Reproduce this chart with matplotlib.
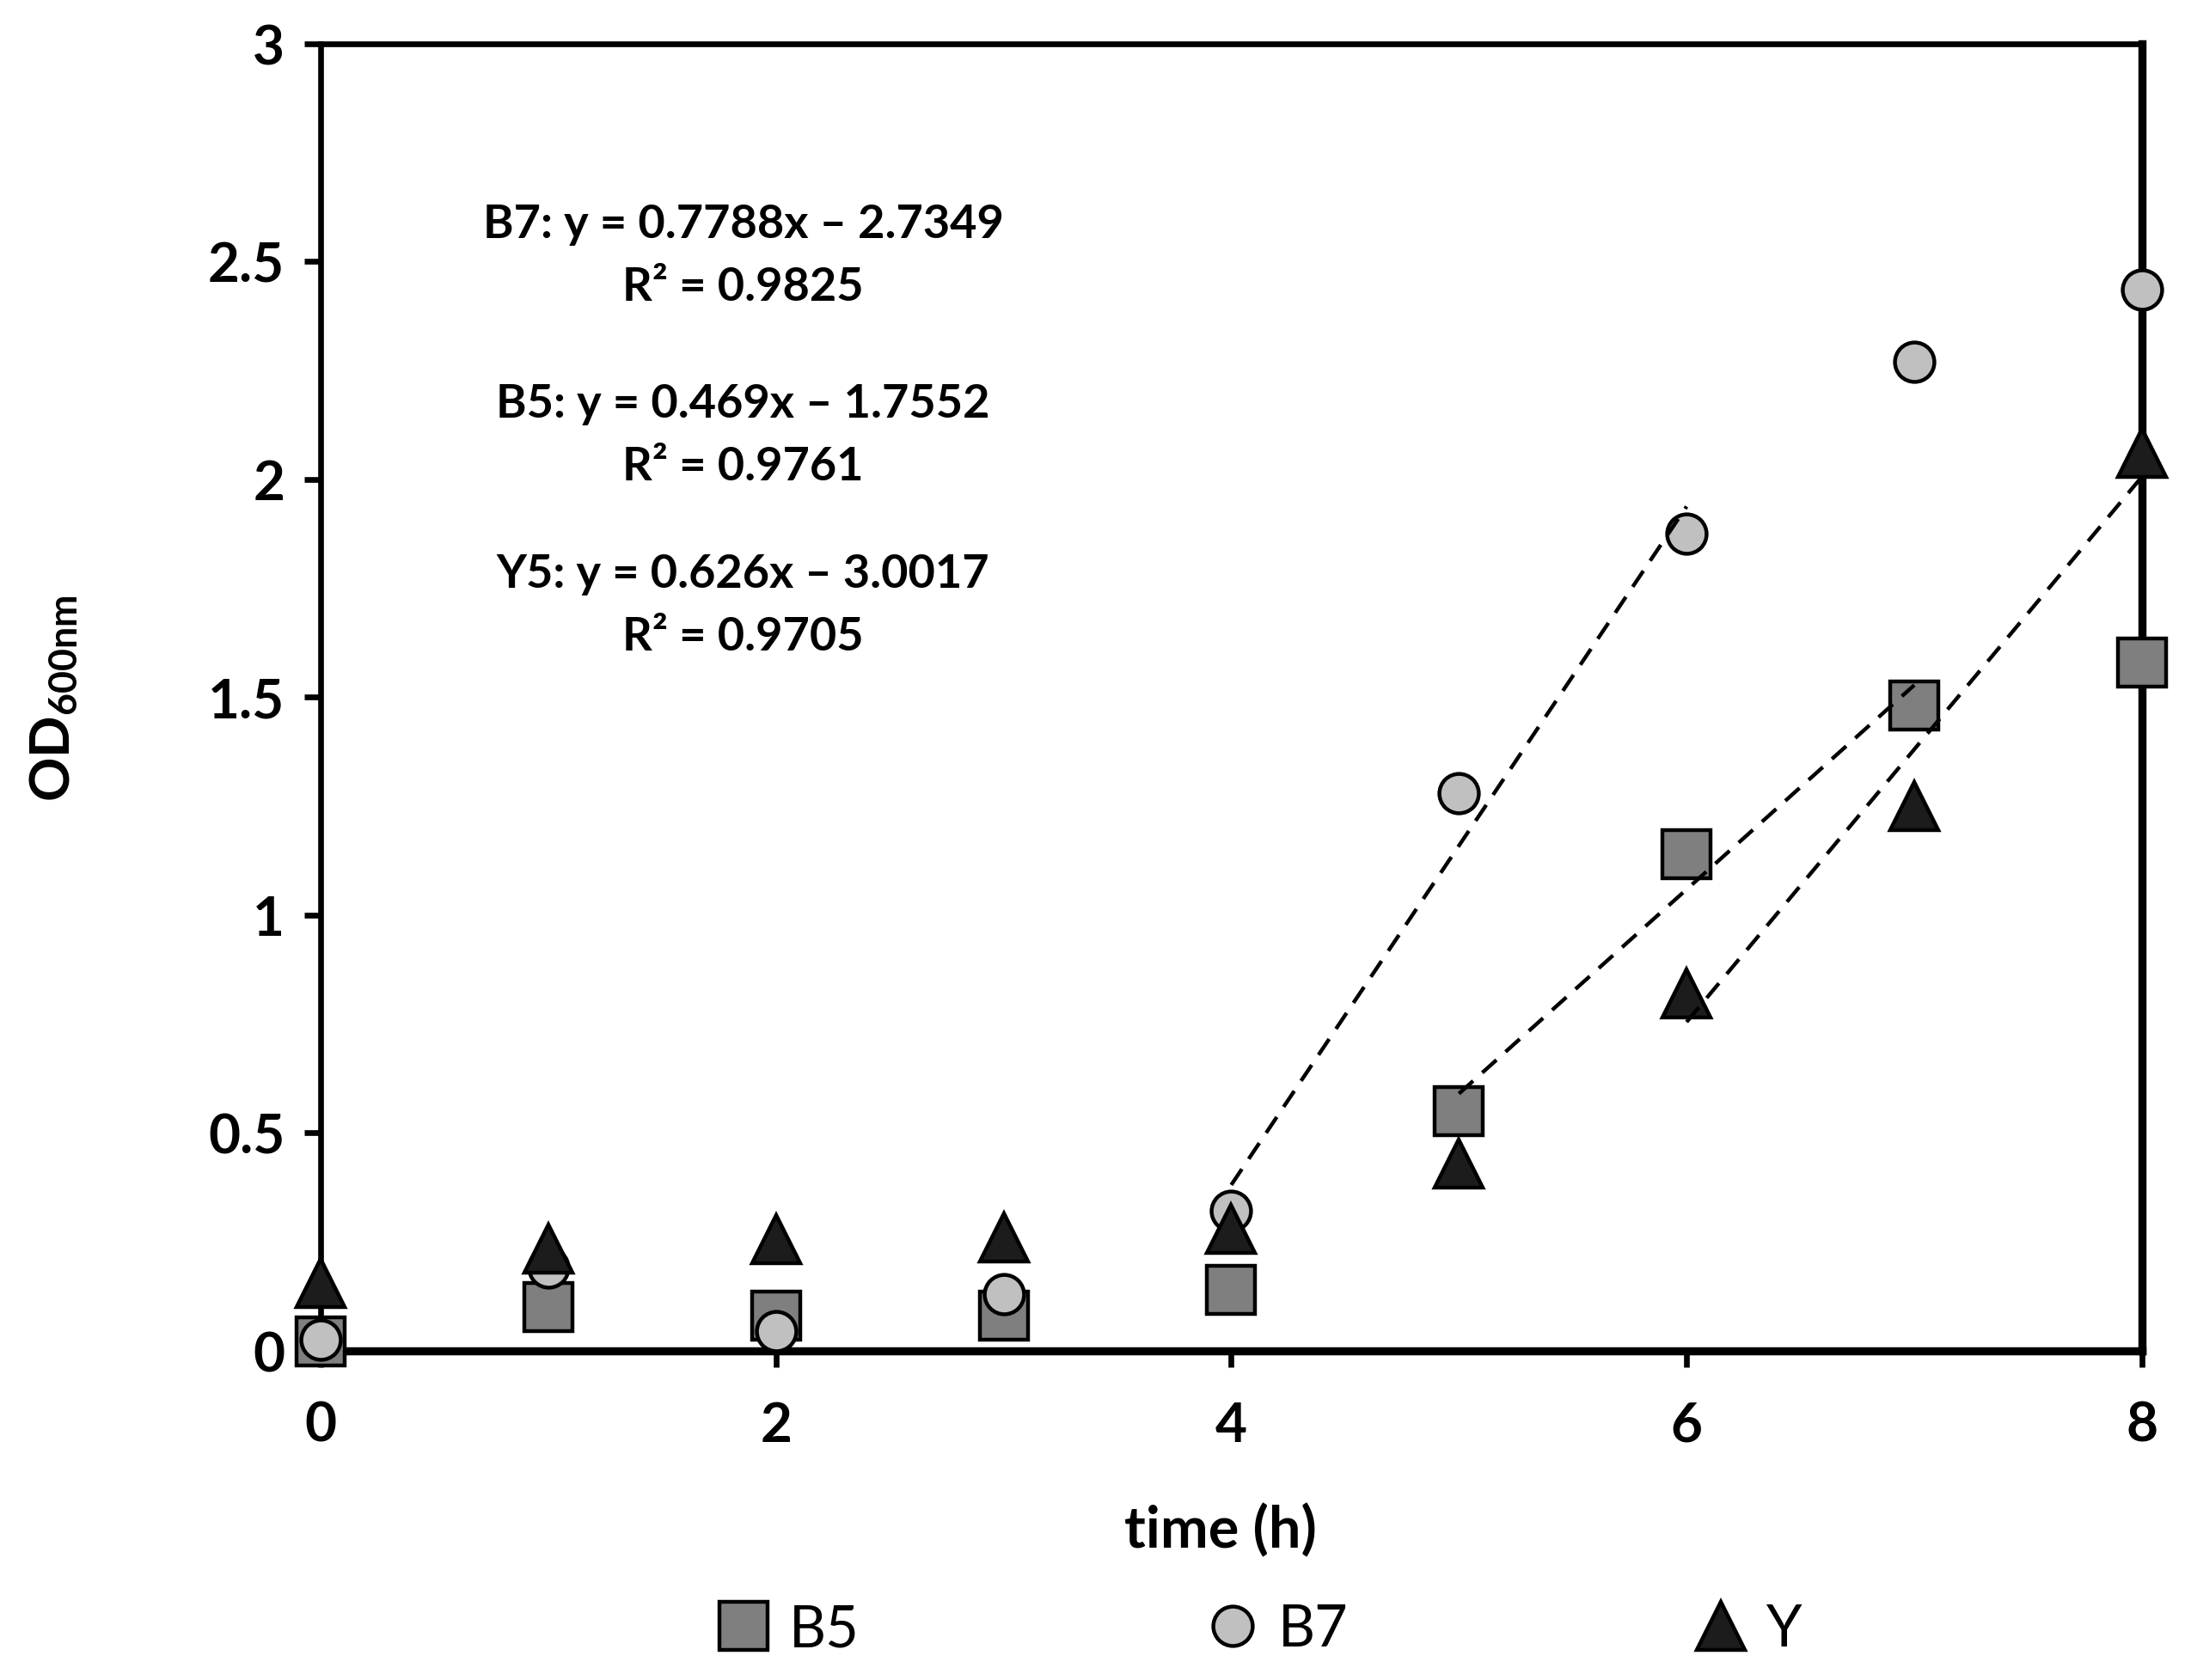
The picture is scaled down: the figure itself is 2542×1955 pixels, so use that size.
import matplotlib
matplotlib.use("Agg")

import matplotlib.pyplot as plt
import numpy as np

# time points (h)
time_h = [0, 1, 2, 3, 4, 5, 6, 7, 8]

# OD600 readings
od_b5 = [0.02, 0.10, 0.08, 0.08, 0.14, 0.55, 1.14, 1.48, 1.58]
od_b7 = [0.025, 0.19, 0.045, 0.13, 0.32, 1.28, 1.875, 2.27, 2.435]
od_y = [0.155, 0.235, 0.255, 0.26, 0.28, 0.43, 0.82, 1.25, 2.06]

# exponential-phase trend lines: name, slope, intercept, r2, x range
fit_names = ["B7", "B5", "Y5"]
fit_slopes = [0.7788, 0.469, 0.626]
fit_intercepts = [-2.7349, -1.7552, -3.0017]
fit_r2 = ["0.9825", "0.9761", "0.9705"]
fit_x_start = [4, 5, 6]
fit_x_end = [6, 7, 8]

plt.rcParams['font.family'] = ['Lato', 'DejaVu Sans']
plt.rcParams['mathtext.default'] = 'regular'

fig = plt.figure(figsize=(12.71, 9.78), dpi=200)
ax = fig.add_axes([0.1467, 0.1960, 0.8336, 0.7774])

ms = dict(markeredgecolor="black", markeredgewidth=1.6, linestyle="none", clip_on=False)
h_b5, = ax.plot(time_h, od_b5, marker="s", markersize=20, markerfacecolor="#7f7f7f",
                label="B5", zorder=3, **ms)
h_b7, = ax.plot(time_h, od_b7, marker="o", markersize=16.5, markerfacecolor="#c0c0c0",
                label="B7", zorder=4, **ms)
h_y, = ax.plot(time_h, od_y, marker="^", markersize=20, markerfacecolor="#1c1c1c",
               label="Y", zorder=5, **ms)

for k in range(len(fit_names)):
    xs = np.array([fit_x_start[k], fit_x_end[k]])
    ys = fit_slopes[k] * xs + fit_intercepts[k]
    ax.plot(xs, ys, color="black", linestyle=(0, (5, 3.2)), linewidth=1.6, zorder=6)

# equation labels
eq_y = [2.514, 2.103, 1.712]
for k in range(len(fit_names)):
    sign = "–" if fit_intercepts[k] < 0 else "+"
    txt = "%s: y = %gx %s %.4f\nR² = %s" % (fit_names[k], fit_slopes[k], sign,
                                           abs(fit_intercepts[k]), fit_r2[k])
    ax.text(1.856, eq_y[k], txt, ha="center", va="center", multialignment="center",
            fontsize=19.5, fontweight="bold", linespacing=1.6)

ax.set_xlim(0, 8)
ax.set_ylim(0, 3)
ax.set_xticks([0, 2, 4, 6, 8])
ax.set_yticks([0, 0.5, 1, 1.5, 2, 2.5, 3])
ax.set_yticklabels(["0", "0.5", "1", "1.5", "2", "2.5", "3"])

ax.spines["left"].set_linewidth(2.4)
ax.spines["top"].set_linewidth(2.4)
ax.spines["bottom"].set_linewidth(3.4)
ax.spines["right"].set_linewidth(3.4)

ax.tick_params(axis="both", direction="out", length=7, width=2.4, labelsize=23)
ax.tick_params(axis="x", pad=14)
ax.tick_params(axis="y", pad=8)
for lab in ax.get_xticklabels() + ax.get_yticklabels():
    lab.set_fontweight("bold")

ax.set_xlabel("time (h)", fontsize=24, fontweight="bold")
ax.xaxis.set_label_coords(0.494, -0.117)
ax.set_ylabel("OD$_{600nm}$", fontsize=23, fontweight="bold")
ax.yaxis.set_label_coords(-0.132, 0.5)

fig.legend(handles=[h_b5, h_b7, h_y], loc="center", bbox_to_anchor=(0.576, 0.03),
           ncol=3, frameon=False, fontsize=24, handlelength=1.0, handletextpad=0.3,
           columnspacing=6.0)

fig.savefig("out.png", dpi=200)
